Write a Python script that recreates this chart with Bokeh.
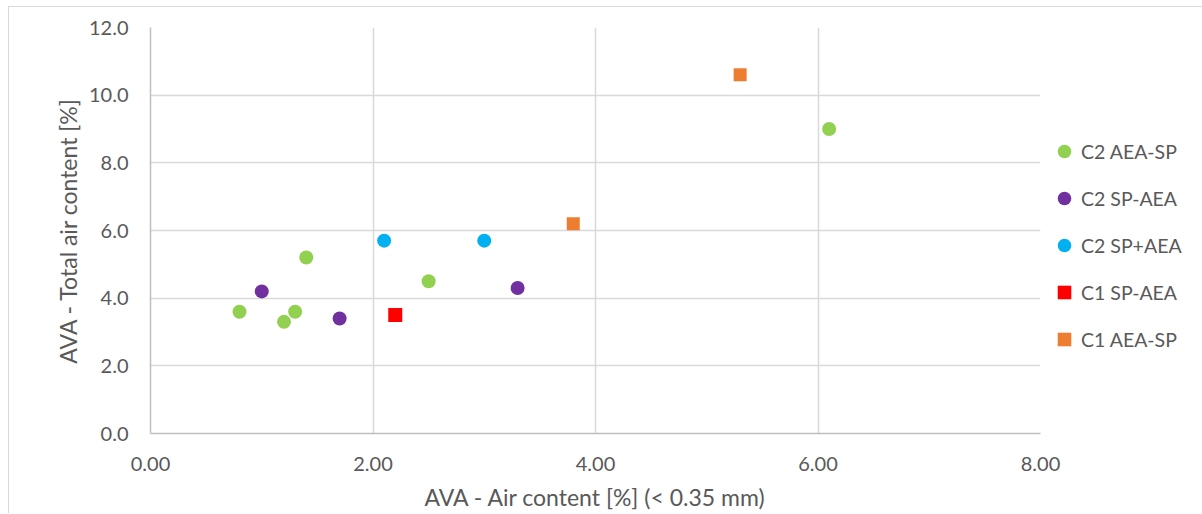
from bokeh.plotting import figure
from bokeh.models import Legend, LegendItem, FixedTicker, NumeralTickFormatter, Range1d
from bokeh.embed import file_html
from bokeh.resources import INLINE

# Data
c2_aea_sp_x = [0.8, 1.2, 1.3, 1.4, 2.5, 6.1]
c2_aea_sp_y = [3.6, 3.3, 3.6, 5.2, 4.5, 9.0]
c2_sp_aea_x = [1.0, 1.7, 3.3]
c2_sp_aea_y = [4.2, 3.4, 4.3]
c2_sp_plus_aea_x = [2.1, 3.0]
c2_sp_plus_aea_y = [5.7, 5.7]
c1_sp_aea_x = [2.2]
c1_sp_aea_y = [3.5]
c1_aea_sp_x = [3.8, 5.3]
c1_aea_sp_y = [6.2, 10.6]

x_ticks = [0, 2, 4, 6, 8]
y_ticks = [0, 2, 4, 6, 8, 10, 12]

FONT = "Lato"
TXT = "#595959"

p = figure(frame_width=890, frame_height=406, output_backend="svg", toolbar_location=None,
           x_range=Range1d(0, 8), y_range=Range1d(0, 12),
           min_border_left=141, min_border_right=161, min_border_top=20, min_border_bottom=80)
p.styles = {"border-top": "1px solid #D9D9D9", "border-left": "1px solid #D9D9D9",
            "border-right": "1px solid #D9D9D9", "margin-left": "8px", "margin-top": "6px"}
p.outline_line_color = None
p.background_fill_color = "white"
p.border_fill_color = "white"

for ax in (p.xaxis[0], p.yaxis[0]):
    ax.axis_line_color = "#BFBFBF"
    ax.axis_line_width = 1.5
    ax.major_tick_line_color = None
    ax.minor_tick_line_color = None
    ax.major_tick_out = 0
    ax.major_tick_in = 0
    ax.major_label_text_font = FONT
    ax.major_label_text_font_size = "20px"
    ax.major_label_text_color = TXT
    ax.axis_label_text_font = FONT
    ax.axis_label_text_font_size = "23px"
    ax.axis_label_text_font_style = "normal"
    ax.axis_label_text_color = TXT

p.xaxis.ticker = FixedTicker(ticks=x_ticks)
p.yaxis.ticker = FixedTicker(ticks=y_ticks)
p.xaxis.formatter = NumeralTickFormatter(format="0.00")
p.yaxis.formatter = NumeralTickFormatter(format="0.0")
p.xaxis.major_label_standoff = 23
p.yaxis.major_label_standoff = 22
p.xaxis.axis_label = "AVA - Air content [%] (< 0.35 mm)"
p.yaxis.axis_label = "AVA - Total air content [%]"
p.xaxis.axis_label_standoff = 9
p.yaxis.axis_label_standoff = 4

p.xgrid.ticker = FixedTicker(ticks=x_ticks)
p.ygrid.ticker = FixedTicker(ticks=y_ticks)
p.grid.grid_line_color = "#D9D9D9"
p.grid.grid_line_width = 1.5

r1 = p.scatter(c2_aea_sp_x, c2_aea_sp_y, marker="circle", size=14, fill_color="#92D050", line_color=None)
r2 = p.scatter(c2_sp_aea_x, c2_sp_aea_y, marker="circle", size=14, fill_color="#7030A0", line_color=None)
r3 = p.scatter(c2_sp_plus_aea_x, c2_sp_plus_aea_y, marker="circle", size=14, fill_color="#00B0F0", line_color=None)
r4 = p.scatter(c1_sp_aea_x, c1_sp_aea_y, marker="square", size=14, fill_color="#FF0000", line_color=None)
r5 = p.scatter(c1_aea_sp_x, c1_aea_sp_y, marker="square", size=13, fill_color="#ED7D31", line_color=None)

legend = Legend(items=[
    LegendItem(label="C2 AEA-SP", renderers=[r1]),
    LegendItem(label="C2 SP-AEA", renderers=[r2]),
    LegendItem(label="C2 SP+AEA", renderers=[r3]),
    LegendItem(label="C1 SP-AEA", renderers=[r4]),
    LegendItem(label="C1 AEA-SP", renderers=[r5]),
], location=(7, 77))
legend.border_line_color = None
legend.background_fill_alpha = 0
legend.label_text_font = FONT
legend.label_text_font_size = "19.5px"
legend.label_text_color = TXT
legend.glyph_width = 34
legend.glyph_height = 34
legend.label_height = 34
legend.spacing = 13
legend.label_standoff = -5
legend.padding = 0
legend.margin = 0
p.add_layout(legend, "right")

open("out.html", "w").write(file_html(p, INLINE))
